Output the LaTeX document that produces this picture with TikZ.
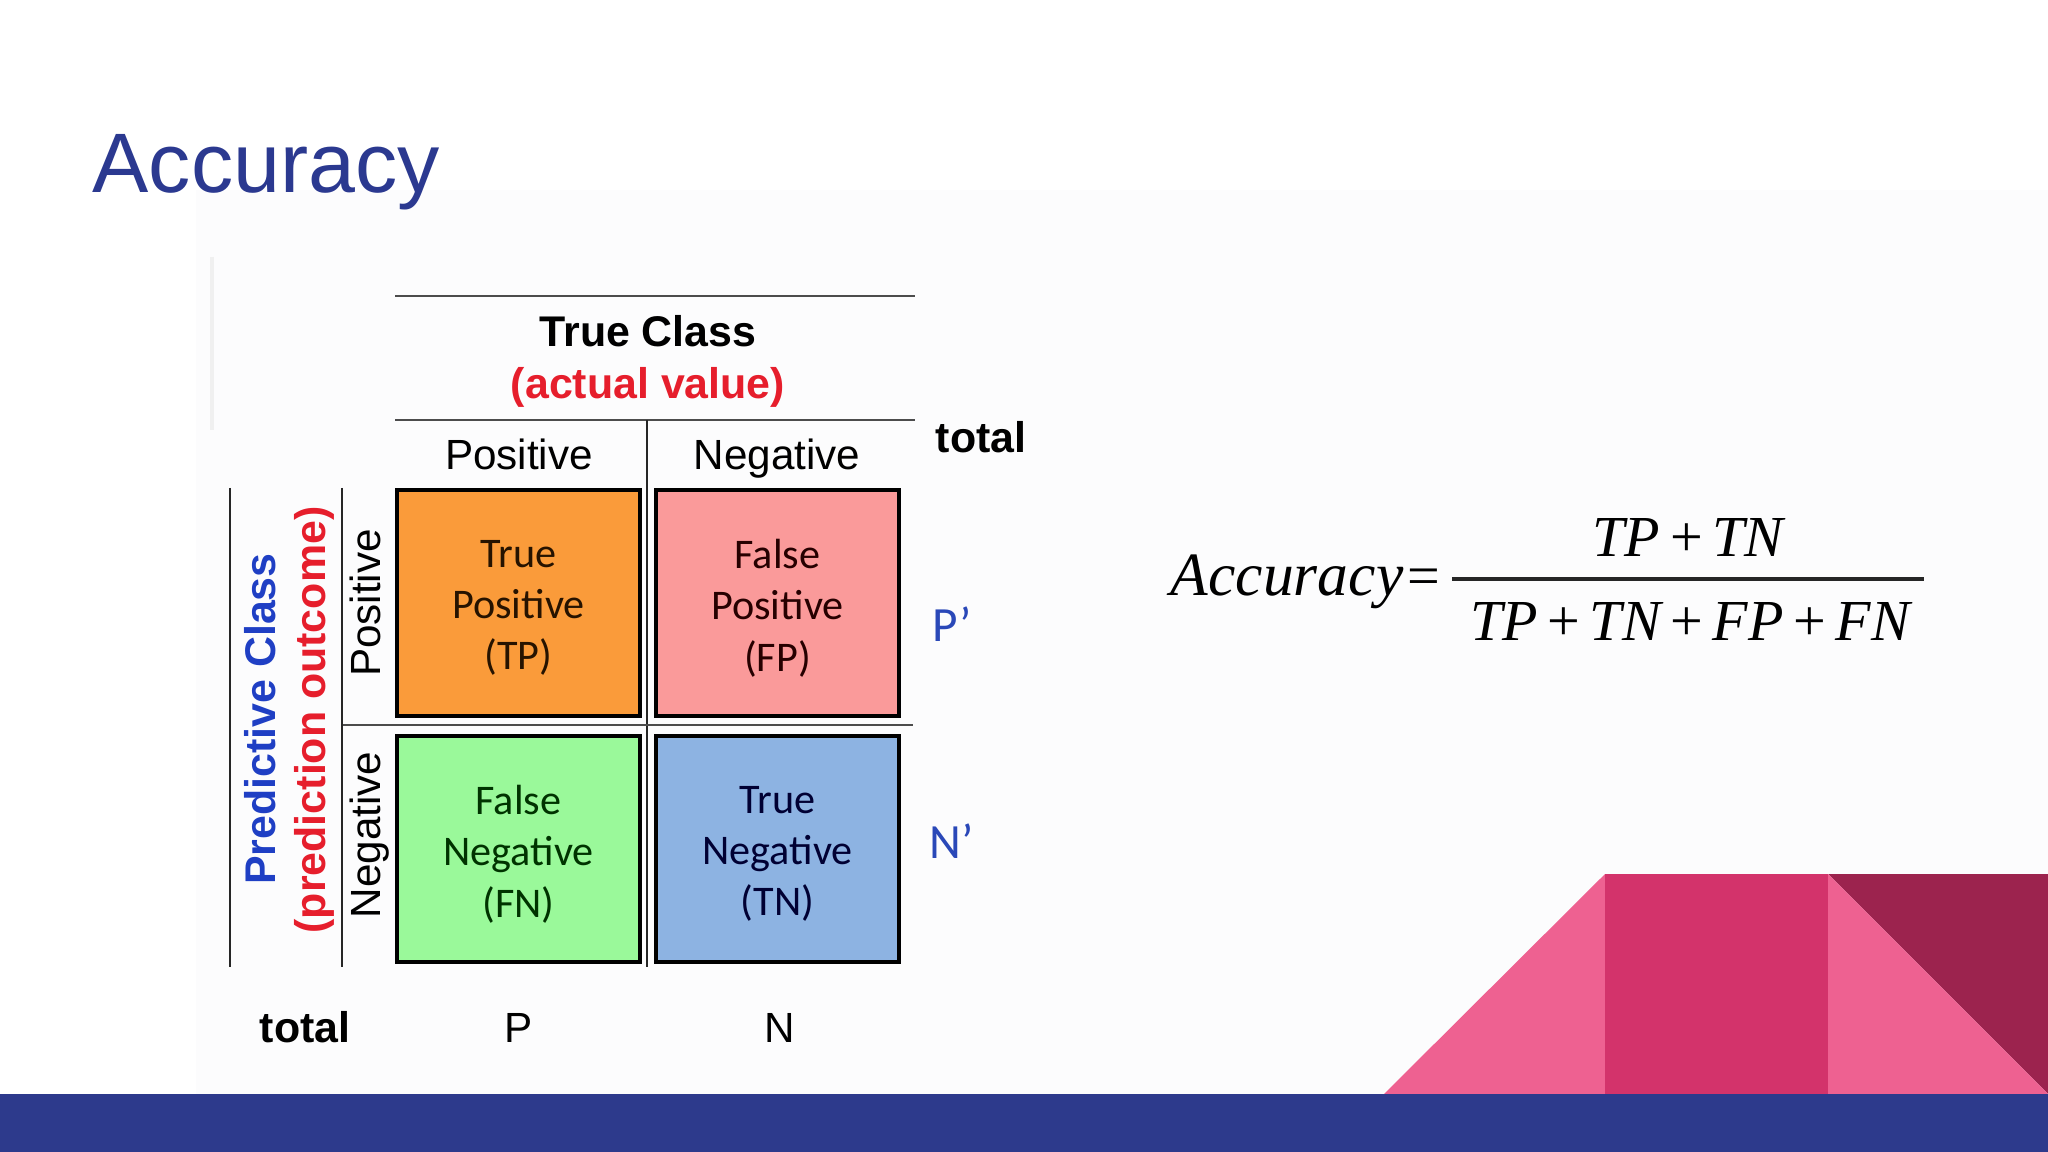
\documentclass[tikz,border=0pt]{standalone}
\usepackage{fontspec}
\setmainfont{Liberation Sans}
\newfontfamily\calib{Carlito}
\newfontfamily\tms{Liberation Serif}
\definecolor{titleblue}{HTML}{2B3990}
\definecolor{barblue}{HTML}{2D3A8C}
\definecolor{tporange}{HTML}{FA9B3A}
\definecolor{fppink}{HTML}{FA9A9A}
\definecolor{fngreen}{HTML}{9AF99A}
\definecolor{tnblue}{HTML}{8DB3E2}
\definecolor{pinklight}{HTML}{EE6191}
\definecolor{pinkmid}{HTML}{D3336B}
\definecolor{pinkdark}{HTML}{9C234E}
\definecolor{redtxt}{HTML}{E61E2C}
\definecolor{bluetxt}{HTML}{1F3FC4}
\definecolor{pnblue}{HTML}{2A48B8}
\definecolor{panel}{HTML}{FCFCFD}
\tikzset{
  hdr/.style={font=\fontsize{12}{14}\selectfont, inner sep=0pt},
  bhdr/.style={font=\fontsize{12.2}{14}\selectfont\bfseries, inner sep=0pt},
  cellbox/.style={draw=black, line width=1.2pt, minimum width=2.43cm, minimum height=2.26cm,
    align=center, inner sep=0pt, font=\calib\fontsize{12}{14.6}\selectfont},
  hrule/.style={draw=black!70, line width=0.85pt},
  vrule/.style={draw=black!85, line width=0.6pt},
  eqtext/.style={inner sep=0pt, font=\tms\fontsize{16.5}{18}\selectfont},
  primelbl/.style={inner sep=0pt, text=pnblue, font=\calib\fontsize{14}{16}\selectfont}
}
\begin{document}
\begin{tikzpicture}[x=0.01cm, y=-0.01cm]
\useasboundingbox (0,0) rectangle (2048,1152);
\fill[white] (0,0) rectangle (2048,1152);
\fill[panel] (196,190) rectangle (2048,1094);
\draw[black!6, line width=1.4pt] (212,257) -- (212,430);

% title
\node[anchor=base west, inner sep=0pt, text=titleblue, font=\fontsize{24}{28}\selectfont] (title) at (92,193) {Accuracy};

% table rules
\draw[hrule] (395,296) -- (915,296);
\draw[hrule] (395,420) -- (915,420);
\draw[vrule] (647,420) -- (647,967);
\draw[hrule, line width=0.7pt] (342,725) -- (913,725);
\draw[vrule] (230,488) -- (230,967);
\draw[vrule] (342,488) -- (342,967);

% headers
\node[bhdr, anchor=base] (trueclass) at (648,347) {True Class};
\node[bhdr, anchor=base, text=redtxt] (actual) at (648,399) {(actual value)};
\node[hdr, anchor=base] (colpos) at (519,470) {Positive};
\node[hdr, anchor=base] (colneg) at (777,470) {Negative};
\node[bhdr, anchor=base west] (totaltop) at (935,453) {total};

% row labels
\node[bhdr, anchor=base, rotate=90, text=bluetxt] (predclass) at (275,719) {Predictive Class};
\node[bhdr, anchor=base, rotate=90, text=redtxt] (predout) at (325,720) {(prediction outcome)};
\node[hdr, anchor=base, rotate=90] (rowpos) at (380,603) {Positive};
\node[hdr, anchor=base, rotate=90] (rowneg) at (380,835) {Negative};

% cells
\node[cellbox, fill=tporange, text=black!85!orange] (tp) at (518.5,603) {};
\node[cellbox, fill=fppink, text=black!85!red] (fp) at (777.5,603) {};
\node[cellbox, fill=fngreen, text=black!80!green] (fn) at (518.5,849) {};
\node[cellbox, fill=tnblue, text=black!80!blue] (tn) at (777.5,849) {};
\node[align=center, inner sep=0pt, font=\calib\fontsize{12}{14.6}\selectfont, text=black!85!orange] (tptext) at ([yshift=-0.05cm]tp.center) {True\\Positive\\(TP)};
\node[align=center, inner sep=0pt, font=\calib\fontsize{12}{14.6}\selectfont, text=black!85!red] (fptext) at ([yshift=-0.05cm]fp.center) {False\\Positive\\(FP)};
\node[align=center, inner sep=0pt, font=\calib\fontsize{12}{14.6}\selectfont, text=black!80!green] (fntext) at ([yshift=-0.05cm]fn.center) {False\\Negative\\(FN)};
\node[align=center, inner sep=0pt, font=\calib\fontsize{12}{14.6}\selectfont, text=black!80!blue] (tntext) at ([yshift=-0.05cm]tn.center) {True\\Negative\\(TN)};

% totals
\node[primelbl, anchor=base] (pp) at (952,642) {P’};
\node[primelbl, anchor=base] (np) at (952,858) {N’};
\node[bhdr, anchor=base] (totalbot) at (305,1042) {total};
\node[hdr, anchor=base] (ptot) at (519,1042) {P};
\node[hdr, anchor=base] (ntot) at (780,1042) {N};

% formula
\node[eqtext, anchor=base east, font=\tms\fontsize{17.5}{18}\selectfont] (acc) at (1404,595) {\itshape Accuracy};
\node[eqtext, anchor=base] (eq) at (1424,595) {=};
\node[eqtext, anchor=base] (num) at (1688,557) {\itshape TP\,\upshape+\,\itshape TN};
\node[eqtext, anchor=base] (den) at (1690,640) {\itshape TP\,\upshape+\,\itshape TN\,\upshape+\,\itshape FP\,\upshape+\,\itshape FN};
\draw[black!85, line width=0.9pt] (1452,579) -- (1924,579);

% decoration
\fill[pinklight] (1384,1094) -- (1605,874) -- (1605,1094) -- cycle;
\fill[pinkmid] (1605,874) rectangle (1828,1094);
\fill[pinkdark] (1828,874) -- (2048,874) -- (2048,1094) -- cycle;
\fill[pinklight] (1828,874) -- (2048,1094) -- (1828,1094) -- cycle;
\fill[barblue] (0,1094) rectangle (2048,1152);
\end{tikzpicture}
\end{document}
